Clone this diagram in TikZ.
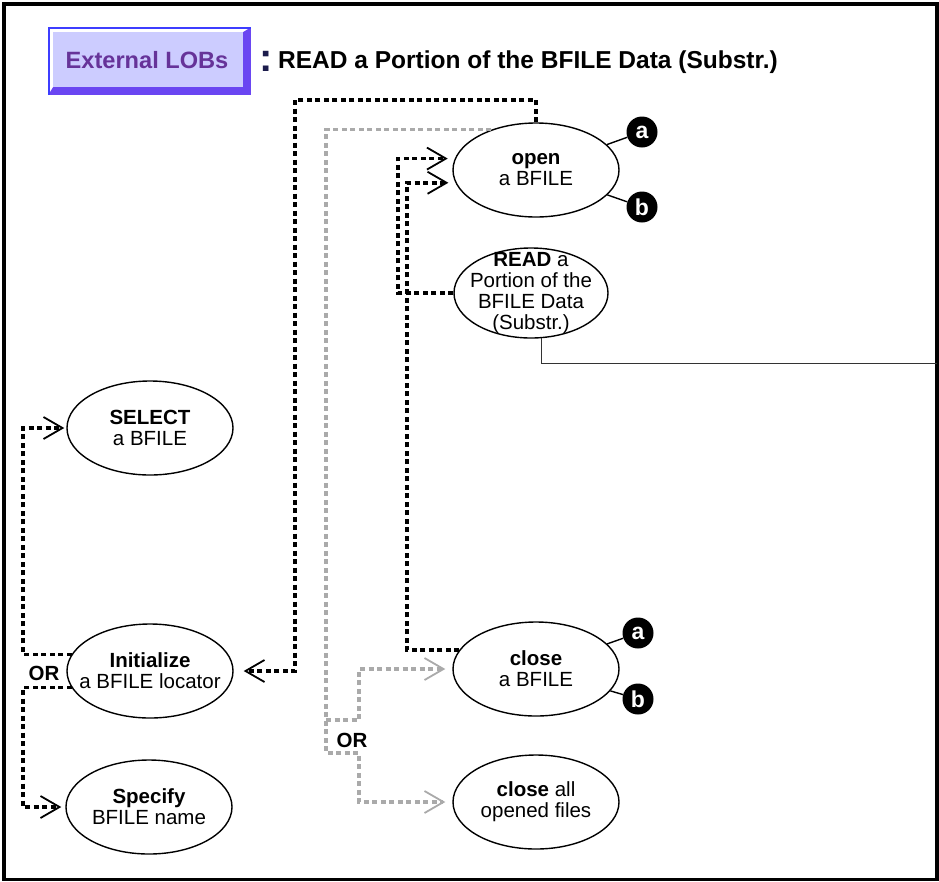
\documentclass[tikz,border=0pt]{standalone}
\usepackage{fontspec}
\setmainfont{Liberation Sans}
\usepackage{xcolor}
\usetikzlibrary{shapes.geometric, arrows.meta, positioning, calc}
\definecolor{lobface}{HTML}{CCCCFF}
\definecolor{lobedge}{HTML}{3D3DFF}
\definecolor{lobshade}{HTML}{6A46F2}
\definecolor{lobtext}{HTML}{663399}
\definecolor{navy}{HTML}{1C1C4C}
\definecolor{flowgray}{HTML}{AAAAAA}

\begin{document}
\begin{tikzpicture}[
  x=1pt, y=-1pt,
  every node/.style={font=\fontsize{20.5}{21}\selectfont},
  op/.style={ellipse, draw, line width=1.4pt, minimum width=166pt, minimum height=94pt,
             inner xsep=-40pt, inner ysep=-20pt, align=center},
  badge/.style={circle, fill=black, text=white, minimum size=31pt, inner sep=0pt,
                font=\fontsize{23}{23}\selectfont\bfseries},
  ortag/.style={font=\fontsize{20.5}{21}\selectfont\bfseries},
  blackflow/.style={line width=3.6pt, dash pattern=on 5pt off 3.5pt, black},
  grayflow/.style={blackflow, flowgray},
  chev/.style={-{Straight Barb[length=19pt, width=22pt, line width=1.8pt]}}
]
  \useasboundingbox (0,0) rectangle (939,881);
  \draw[line width=3.5pt] (4,4) rectangle (937,879.5);

  % header
  \fill[lobshade] (48,27) rectangle (251,95);
  \fill[white] (48,95) -- (48,27) -- (251,27) -- (243,32) -- (53,32) -- (53,87) -- cycle;
  \draw[lobedge, line width=2pt] (49,95) -- (49,28) -- (251,28);
  \fill[lobface] (53,32) rectangle (243,87);
  \node[text=lobtext, font=\fontsize{23.6}{24}\selectfont\bfseries, anchor=base] (lobs) at (147,68) {External LOBs};
  \node[text=navy, font=\fontsize{40}{40}\selectfont\bfseries, anchor=base] (colon) at (266,71) {:};
  \node[font=\fontsize{24.5}{25}\selectfont\bfseries, anchor=base west, inner sep=0pt] (title) at (278,68)
    {READ a Portion of the BFILE Data (Substr.)};

  % operations
  \node[op] (open) at (536,170) {\textbf{open}\\a BFILE};
  \node[op, minimum width=154pt, minimum height=90pt] (read) at (531,293)
    {\textbf{READ} a\\Portion of the\\BFILE Data\\(Substr.)};
  \node[op] (select) at (150,428) {\textbf{SELECT}\\a BFILE};
  \node[op] (init) at (150,671) {\textbf{Initialize}\\a BFILE locator};
  \node[op] (specify) at (149,807) {\textbf{Specify}\\BFILE name};
  \node[op] (close) at (536,669) {\textbf{close}\\a BFILE};
  \node[op] (closeall) at (536,802) {\textbf{close} all\\opened files};

  \node[badge] (opena) at (642,132) {a};
  \node[badge] (openb) at (642,207) {b};
  \node[badge] (closea) at (638,633) {a};
  \node[badge] (closeb) at (638,699) {b};
  \foreach \op/\bd in {open/opena, open/openb, close/closea, close/closeb}
    \draw[line width=1.4pt] (\op) -- (\bd);

  \node[ortag] (orleft) at (44,673) {OR};
  \node[ortag] (orright) at (352,740) {OR};

  % black sequence
  \draw[blackflow, chev, shorten >=7pt] (read.west) -| (398,0 |- open.172) -- (open.172);
  \draw[blackflow, chev, shorten >=7pt] (close.166) -| (407,0 |- open.189) -- (open.189);
  \draw[blackflow, chev, shorten >=10pt] (open.north) |- (295,100) |- (init.east);
  \draw[blackflow, chev, shorten >=2pt] (init.168) -| (23,0 |- select.west) -- (select.west);
  \draw[blackflow, chev, shorten >=4pt] (init.192) -| (23,0 |- specify.west) -- (specify.west);

  % gray alternatives
  \coordinate (orfork) at (326,720);
  \draw[grayflow, chev, shorten >=7pt] (open.138) -| (326,753) -- (359,753) |- (closeall.west);
  \draw[grayflow, chev, shorten >=7pt] (orfork) -| (359,0 |- close.west) -- (close.west);

  \coordinate (rim) at (937,363);
  \draw[line width=1pt, black!80] (read.283) |- (rim);
\end{tikzpicture}
\end{document}
